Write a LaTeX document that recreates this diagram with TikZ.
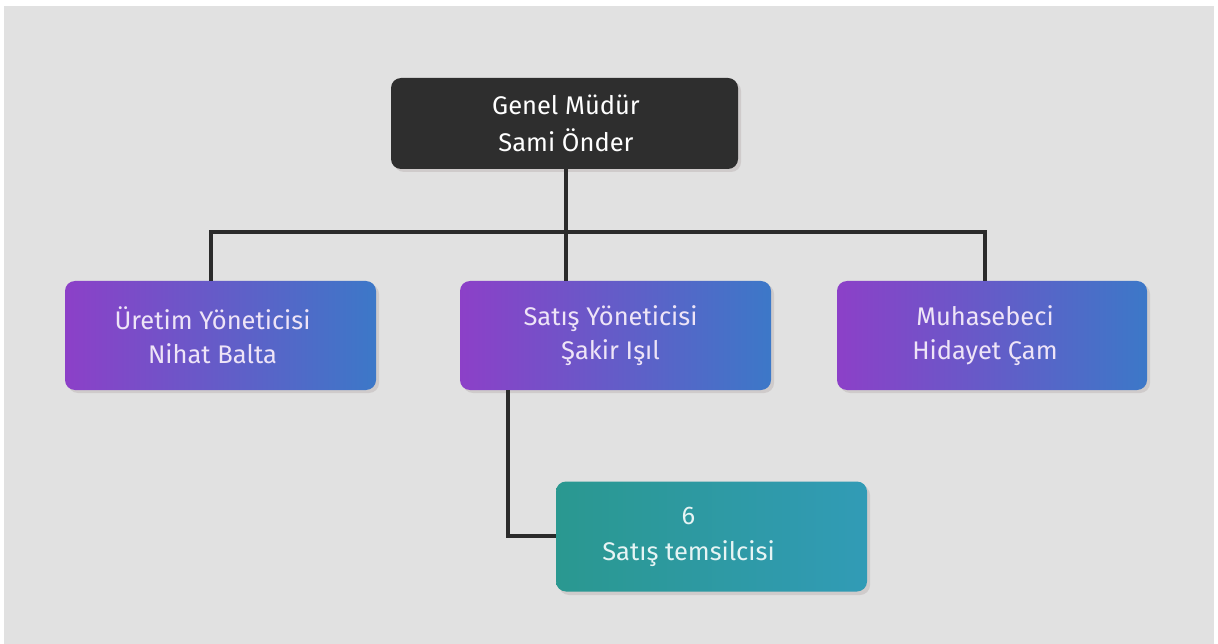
\documentclass[tikz,border=0pt]{standalone}
\usepackage{fontspec}
\setmainfont{Fira Sans}
\definecolor{bg}{HTML}{E1E1E1}
\definecolor{dark}{HTML}{2E2E2E}
\definecolor{wire}{HTML}{2B2B2B}
\definecolor{purp}{HTML}{8C40C8}
\definecolor{blu}{HTML}{3C78C8}
\definecolor{tealL}{HTML}{2A9890}
\definecolor{tealR}{HTML}{319BB6}
\definecolor{shad}{HTML}{CFCBCB}
\definecolor{txtP}{HTML}{EEE4F7}
\definecolor{txtT}{HTML}{E6F4F4}
\begin{document}
\begin{tikzpicture}[x=1pt,y=-1pt,
  box/.style={rounded corners=10pt, minimum width=311pt, minimum height=109pt, inner sep=0pt},
  lbl/.style={align=center, inner sep=0pt, font=\fontsize{25.5}{33.5}\selectfont},
  darkbox/.style={box, fill=dark, minimum width=347pt, minimum height=91pt},
  gradbox/.style={box, left color=purp, right color=blu},
  tealbox/.style={box, left color=tealL, right color=tealR, minimum height=110pt},
  wire/.style={draw=wire, line width=4.5pt, line join=miter}]
\useasboundingbox (0,0) rectangle (1218,644);
\fill[white] (0,0) rectangle (1218,644);
\fill[bg] (4,6) rectangle (1214,644);
% shadows
\fill[shad] (394,81) [rounded corners=10pt] rectangle (741,172);
\fill[shad] (68,284) [rounded corners=10pt] rectangle (379,393);
\fill[shad] (463,284) [rounded corners=10pt] rectangle (774,393);
\fill[shad] (840,284) [rounded corners=10pt] rectangle (1150,393);
\fill[shad] (559,485) [rounded corners=10pt] rectangle (870,595);
% connectors
\coordinate (jl) at (211,232);
\coordinate (jr) at (985,232);
\coordinate (jm) at (566,232);
\coordinate (cb) at (508,536);
% nodes
\node[darkbox, label={[lbl, text=white, xshift=1.5pt, font=\fontsize{25.5}{37}\selectfont]center:Genel Müdür\\Sami Önder}] (top) at (564.5,123.5) {};
\node[gradbox, label={[lbl, text=txtP, xshift=-8pt]center:Üretim Yöneticisi\\Nihat Balta}] (left) at (220.5,335.5) {};
\node[gradbox, label={[lbl, text=txtP, xshift=-5pt]center:Satış Yöneticisi\\Şakir Işıl}] (mid) at (615.5,335.5) {};
\node[gradbox, minimum width=310pt, label={[lbl, text=txtP, xshift=-7pt]center:Muhasebeci\\Hidayet Çam}] (right) at (992,335.5) {};
\node[tealbox, label={[lbl, text=txtT, xshift=-23pt, font=\fontsize{25.5}{36}\selectfont]center:6\\Satış temsilcisi}] (bot) at (711.5,536.5) {};
\draw[wire] (top.south -| jm) -- (jm) -- (mid.north -| jm);
\draw[wire] (left.north -| jl) -- (jl) -- (jr) -- (right.north -| jr);
\draw[wire] (mid.south -| cb) -- (cb) -- (bot.west |- cb);
\end{tikzpicture}
\end{document}
